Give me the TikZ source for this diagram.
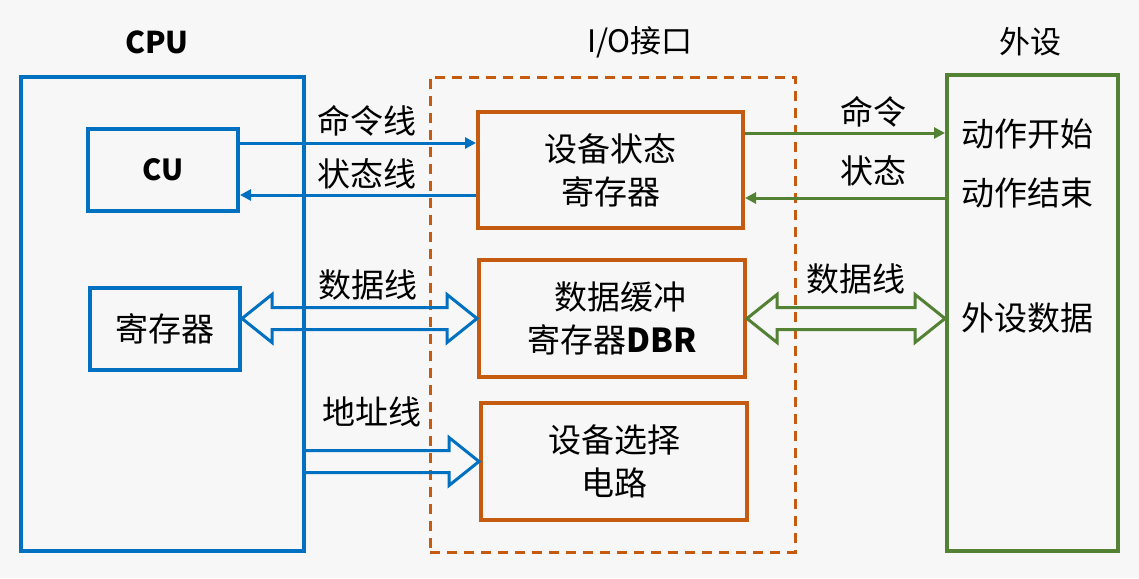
\documentclass[tikz,border=0pt]{standalone}
\usepackage{fontspec}
\setmainfont{Noto Sans CJK SC}
\usetikzlibrary{arrows.meta,calc}
\definecolor{cpublue}{RGB}{0,112,192}
\definecolor{ioorange}{RGB}{197,90,17}
\definecolor{devgreen}{RGB}{84,130,53}
\definecolor{bggray}{RGB}{247,247,247}
\newcommand{\cn}{\fontsize{33}{43}\selectfont}
% hollow block arrows between two points on one level
\newcommand{\dblhollow}[3]{%
  \draw[#1, line width=3pt, line join=miter] let \p1=(#2), \p2=(#3) in
    (\p1) -- (\x1+30,\y1+24) -- (\x1+30,\y1+11) -- (\x2-30,\y1+11) -- (\x2-30,\y1+24)
    -- (\x2,\y1) -- (\x2-30,\y1-24) -- (\x2-30,\y1-11) -- (\x1+30,\y1-11) -- (\x1+30,\y1-24) -- cycle;}
\newcommand{\onehollow}[3]{%
  \draw[#1, line width=3pt, line join=miter] let \p1=(#2), \p2=(#3) in
    (\x1,\y1+11) -- (\x2-30,\y1+11) -- (\x2-30,\y1+24) -- (\x2,\y1)
    -- (\x2-30,\y1-24) -- (\x2-30,\y1-11) -- (\x1,\y1-11);}
\begin{document}
\begin{tikzpicture}[x=1pt, y=-1pt,
    box/.style={draw=#1, line width=4pt, align=center, font=\cn, inner sep=0pt},
    label/.style={font=\cn, inner sep=0pt},
    title/.style={font=\fontsize{31}{36}\selectfont, inner sep=0pt},
    thinline/.style={line width=3pt, -{Triangle[length=11pt,width=11pt]}}]
    % Draw the background
    \fill[bggray] (0,0) rectangle (1139,578);
    \useasboundingbox (0,0) rectangle (1139,578);
    % Draw the titles
    \node[title, font=\fontsize{30}{36}\selectfont\bfseries] (tcpu) at (157,42) {CPU};
    \node[title] (tio) at (640,42) {I/O接口};
    \node[title] (tper) at (1030,42) {外设};
    % Draw the CPU
    \node[box=cpublue, minimum width=283, minimum height=474] (cpu) at (162.5,314) {};
    \node[box=cpublue, minimum width=150, minimum height=82, font=\fontsize{29}{36}\selectfont\bfseries] (cu) at (163,170) {CU};
    \node[box=cpublue, minimum width=150, minimum height=82] (reg) at (165,329) {寄存器};
    % Draw the I/O interface
    \node[draw=ioorange, line width=3pt, dash pattern=on 10pt off 7pt, minimum width=365, minimum height=475] (io) at (612.5,314.5) {};
    \node[box=ioorange, minimum width=265, minimum height=116] (devst) at (610.5,170) {设备状态\\寄存器};
    \node[box=ioorange, minimum width=266, minimum height=117] (dbr) at (612,318.5) {\hspace*{16pt}数据缓冲\\寄存器{\bfseries DBR}};
    \node[box=ioorange, minimum width=266, minimum height=117] (sel) at (614,461.5) {设备选择\\电路};
    % Draw the peripheral
    \node[box=devgreen, minimum width=171, minimum height=476] (per) at (1032.5,313) {};
    \node[label] (act1) at (1027,134) {动作开始};
    \node[label] (act2) at (1027,193) {动作结束};
    \node[label] (pdata) at (1027,318) {外设数据};
    % Draw the control and status lines
    \draw[thinline, cpublue] ([yshift=27pt]cu.east) -- ([yshift=27pt]devst.west);
    \draw[thinline, cpublue] ([yshift=-25pt]devst.west) -- ([yshift=-25pt]cu.east);
    \draw[thinline, devgreen] ([yshift=37pt]devst.east) -- ([yshift=37pt]devst.east -| per.west);
    \draw[thinline, devgreen] ([yshift=-28pt]devst.east -| per.west) -- ([yshift=-28pt]devst.east);
    \node[label] (lcmd) at (367,121) {命令线};
    \node[label] (lsta) at (367,174) {状态线};
    \node[label] (rcmd) at (873,112) {命令};
    \node[label] (rsta) at (873,171) {状态};
    % Draw the data and address buses
    \dblhollow{cpublue}{reg.east |- dbr.west}{dbr.west}
    \dblhollow{devgreen}{dbr.east}{dbr.east -| per.west}
    \onehollow{cpublue}{cpu.east |- sel.west}{sel.west}
    \node[label] (ldat) at (368,285) {数据线};
    \node[label] (rdat) at (856,279) {数据线};
    \node[label] (ladr) at (372,412) {地址线};
\end{tikzpicture}
\end{document}
